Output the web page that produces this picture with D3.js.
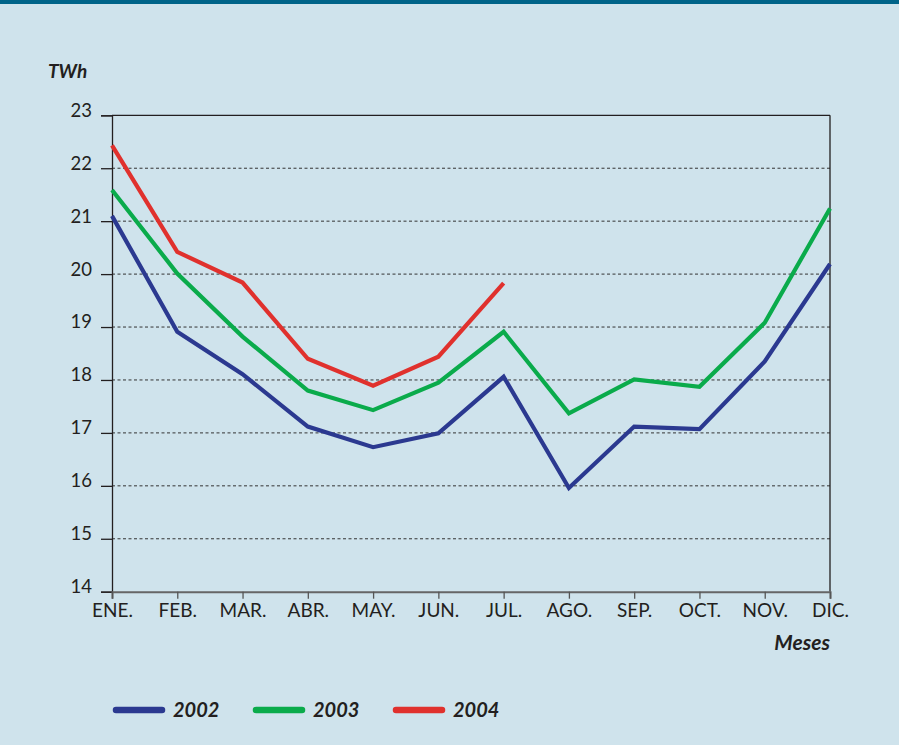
<html>
    <head>
        <title>Consumo mensual TWh</title>
        <style>
            body { margin: 0; background: #cfe3ec; }
            svg { display: block; }
            text { font-family: Lato, "Open Sans", sans-serif; fill: #231f20; }
        </style>
    </head>
    <body>
        <svg></svg>

        <script src="https://d3js.org/d3.v7.min.js"></script>
        <script>
            // data
            const months = ["ENE.", "FEB.", "MAR.", "ABR.", "MAY.", "JUN.", "JUL.", "AGO.", "SEP.", "OCT.", "NOV.", "DIC."];
            const y2002 = [21.1, 18.91, 18.11, 17.12, 16.73, 16.99, 18.06, 15.96, 17.12, 17.07, 18.35, 20.19];
            const y2003 = [21.59, 20.01, 18.82, 17.8, 17.43, 17.95, 18.91, 17.37, 18.01, 17.87, 19.08, 21.24];
            const y2004 = [22.43, 20.42, 19.84, 18.4, 17.89, 18.44, 19.83];
            const yTicks = [14, 15, 16, 17, 18, 19, 20, 21, 22, 23];
            const seriesNames = ["2002", "2003", "2004"];
            const seriesColors = ["#2b3990", "#0aab4b", "#e0312d"];

            let width = 899;
            let height = 745;

            const svg = d3.select("svg")
                .attr("width", width)
                .attr("height", height);

            // background + top band
            svg.append("rect").attr("width", width).attr("height", height).attr("fill", "#cfe3ec");
            svg.append("rect").attr("width", width).attr("height", 4).attr("fill", "#006489");

            const margin = {top: 115.3, left: 112, right: 69, bottom: 153.3};
            const w = width - margin.left - margin.right;
            const h = height - margin.top - margin.bottom;

            const g = svg.append("g")
                .attr("transform", "translate(" + margin.left + "," + margin.top + ")");

            const x = d3.scalePoint().domain(months).range([0, w]);
            const y = d3.scaleLinear().domain([14, 23]).range([h, 0]);

            // dashed grid lines
            g.append("g")
                .selectAll("line")
                .data(yTicks.filter(function(d) { return d > 14 && d < 23; }))
                .join("line")
                .attr("x1", 0).attr("x2", w)
                .attr("y1", function(d) { return y(d); })
                .attr("y2", function(d) { return y(d); })
                .attr("stroke", "#333")
                .attr("stroke-width", 1)
                .attr("stroke-dasharray", "3,2.5");

            // top and right frame
            g.append("line").attr("x1", 0).attr("x2", w).attr("y1", y(23)).attr("y2", y(23))
                .attr("stroke", "#231f20").attr("stroke-width", 1.3);
            g.append("line").attr("x1", w).attr("x2", w).attr("y1", y(23)).attr("y2", h)
                .attr("stroke", "#231f20").attr("stroke-width", 1.3);

            // y axis
            const yAxis = g.append("g")
                .call(d3.axisLeft(y).tickValues(yTicks).tickSize(11).tickPadding(9).tickFormat(d3.format("d")));
            yAxis.select(".domain").attr("stroke", "#231f20").attr("stroke-width", 1.3);
            yAxis.selectAll(".tick line").attr("stroke", "#231f20").attr("stroke-width", 1.3);
            yAxis.selectAll(".tick text")
                .attr("dy", "0.05em")
                .style("font-size", "18.5px")
                .style("font-family", "Lato, sans-serif")
                .attr("fill", "#231f20");

            // x axis
            const xAxis = g.append("g")
                .attr("transform", "translate(0," + h + ")")
                .call(d3.axisBottom(x).tickSize(7).tickPadding(5));
            xAxis.select(".domain").attr("stroke", "#666").attr("stroke-width", 2);
            xAxis.selectAll(".tick line").attr("stroke", "#555").attr("stroke-width", 1.3);
            xAxis.selectAll(".tick text")
                .style("font-size", "19px")
                .style("font-family", "Lato, sans-serif")
                .attr("fill", "#231f20");

            // lines
            const line = d3.line()
                .x(function(d, i) { return x(months[i]); })
                .y(function(d) { return y(d); });

            [y2002, y2003, y2004].forEach(function(vals, k) {
                g.append("path")
                    .datum(vals)
                    .attr("fill", "none")
                    .attr("stroke", seriesColors[k])
                    .attr("stroke-width", 4.2)
                    .attr("stroke-linejoin", "miter")
                    .attr("d", line);
            });

            // axis titles
            svg.append("text")
                .attr("x", 48).attr("y", 78)
                .style("font-size", "19px").style("font-weight", "bold").style("font-style", "italic")
                .text("TWh");
            svg.append("text")
                .attr("x", 830).attr("y", 650)
                .attr("text-anchor", "end")
                .style("font-size", "21px").style("font-weight", "bold").style("font-style", "italic")
                .text("Meses");

            // legend
            const legend = svg.append("g")
                .selectAll("g")
                .data(seriesNames)
                .join("g")
                .attr("transform", function(d, i) { return "translate(" + (116 + i * 140) + ",710)"; });
            legend.append("line")
                .attr("x1", 0).attr("x2", 46)
                .attr("stroke", function(d, i) { return seriesColors[i]; })
                .attr("stroke-width", 6.5)
                .attr("stroke-linecap", "round");
            legend.append("text")
                .attr("x", 57).attr("y", 7)
                .style("font-size", "20px").style("font-weight", "bold").style("font-style", "italic")
                .text(function(d) { return d; });
        </script>
    </body>
</html>
